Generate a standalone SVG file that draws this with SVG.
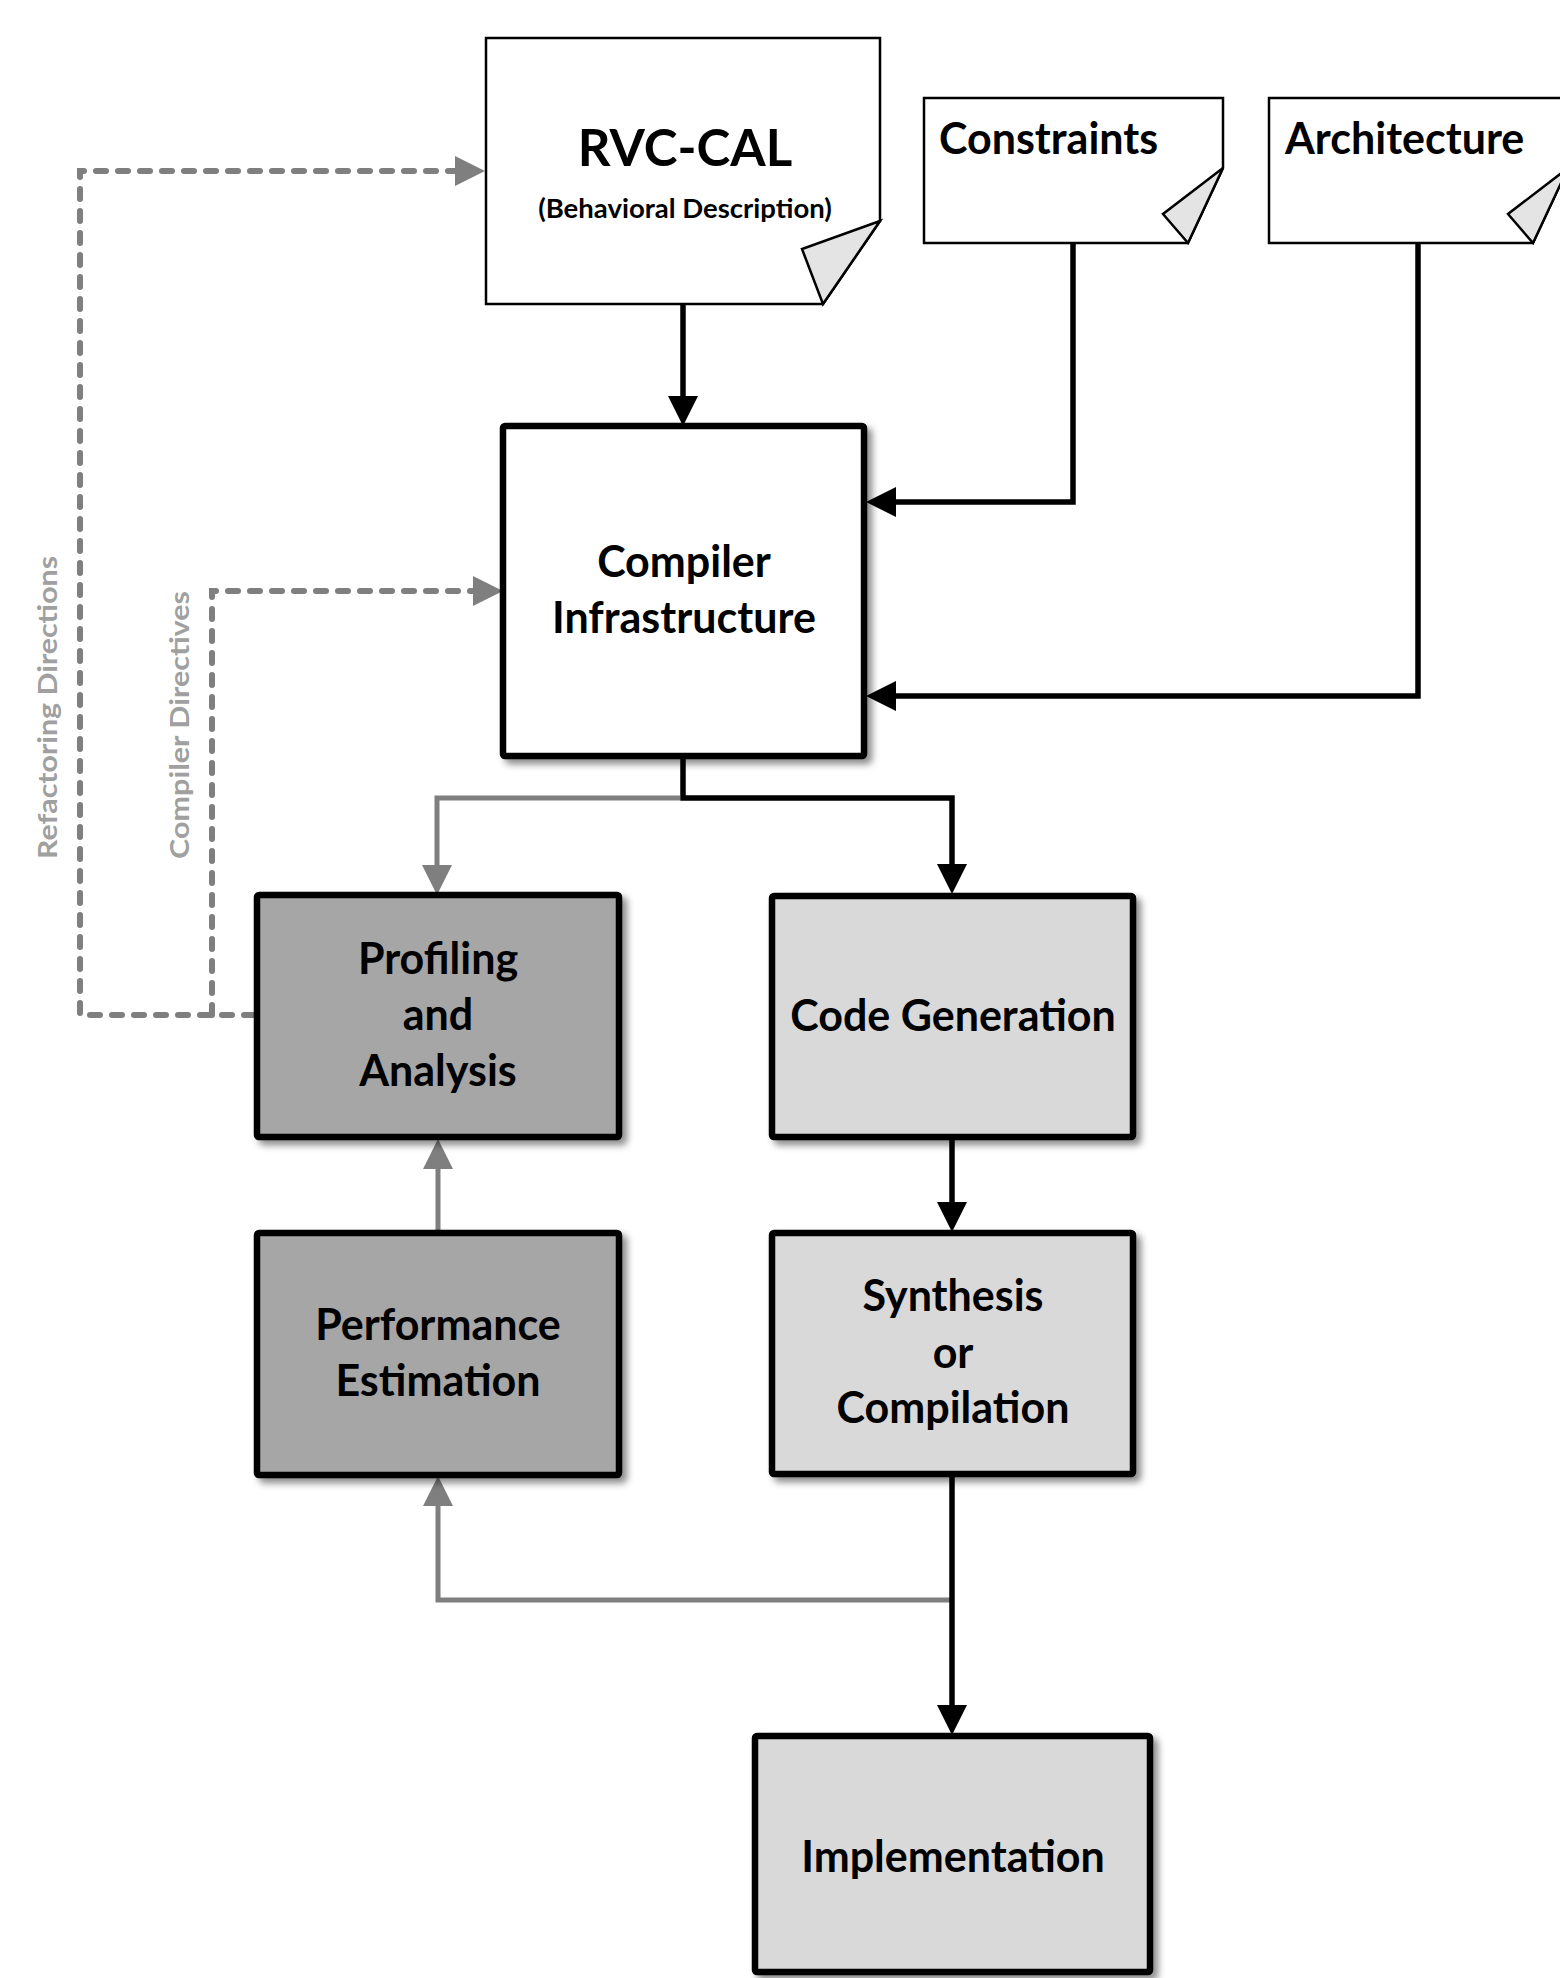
<svg xmlns="http://www.w3.org/2000/svg" width="1560" height="1978" viewBox="0 0 1560 1978">
<defs>
<style>
.doc{fill:#fff;stroke:#000;stroke-width:2.5;stroke-linejoin:miter}
.fold{fill:#e4e4e4;stroke:#000;stroke-width:2.5;stroke-linejoin:miter}
.box{stroke:#000;stroke-width:6.5;filter:url(#sh)}
.white{fill:#fff}
.dark{fill:#a6a6a6}
.light{fill:#d9d9d9}
.lbl{font-family:Lato,"Open Sans",sans-serif;font-weight:700;fill:#000;text-anchor:middle}
.big{font-size:43px}
.side{font-family:Lato,"Open Sans",sans-serif;font-weight:700;font-size:27px;fill:#a0a0a0}
.blk{fill:none;stroke:#000;stroke-width:5.5;stroke-linejoin:miter;marker-end:url(#ab)}
.gry{fill:none;stroke:#7f7f7f;stroke-width:5;stroke-linejoin:miter;marker-end:url(#ag)}
.dsh{fill:none;stroke:#7f7f7f;stroke-width:6;stroke-linecap:round;stroke-dasharray:10 12;marker-end:url(#ag)}
</style>
<filter id="sh" x="-10%" y="-10%" width="130%" height="130%">
<feDropShadow dx="5" dy="5" stdDeviation="3.5" flood-color="#000" flood-opacity="0.45"/>
</filter>
<marker id="ab" markerUnits="userSpaceOnUse" viewBox="0 0 30 30" markerWidth="30" markerHeight="30" refX="10" refY="15" orient="auto">
<path d="M0,0 L30,15 L0,30 Z" fill="#000"/>
</marker>
<marker id="ag" markerUnits="userSpaceOnUse" viewBox="0 0 30 30" markerWidth="30" markerHeight="30" refX="10" refY="15" orient="auto">
<path d="M0,0 L30,15 L0,30 Z" fill="#7f7f7f"/>
</marker>
</defs>
<rect width="1560" height="1978" fill="#fff"/>

<g id="connectors">
<path class="gry" d="M680,798 H437 V875"/>
<path class="gry" d="M950,1600 H438 V1496"/>
<path class="gry" d="M438,1232 V1159"/>
<path class="blk" d="M683,304 V406"/>
<path class="blk" d="M1073,243 V502 H886"/>
<path class="blk" d="M1418,243 V696 H886"/>
<path class="blk" d="M683,756 V798 H952 V874"/>
<path class="blk" d="M952,1137 V1212"/>
<path class="blk" d="M952,1473 V1715"/>
<path class="dsh" d="M254,1015 H80 V171 H465"/>
<path class="dsh" d="M212,1015 V591 H483"/>
<text class="side" transform="translate(57,859) rotate(-90)" textLength="303" lengthAdjust="spacingAndGlyphs">Refactoring Directions</text>
<text class="side" transform="translate(189,859) rotate(-90)" textLength="268" lengthAdjust="spacingAndGlyphs">Compiler Directives</text>
</g>

<g id="rvc-cal">
<path class="doc" d="M486,38 H880 V221 L823,304 H486 Z"/>
<path class="fold" d="M880,221 L802,249 L823,304 Z"/>
<text class="lbl" x="685" y="166" font-size="51">RVC-CAL</text>
<text class="lbl" x="685" y="218" font-size="27.5">(Behavioral Description)</text>
</g>

<g id="constraints">
<path class="doc" d="M924,98 H1223 V168 L1188,243 H924 Z"/>
<path class="fold" d="M1223,168 L1163,214 L1188,243 Z"/>
<text class="lbl" x="939" y="154" font-size="43" style="text-anchor:start">Constraints</text>
</g>

<g id="architecture">
<path class="doc" d="M1269,98 H1568 V168 L1533,243 H1269 Z"/>
<path class="fold" d="M1568,168 L1508,214 L1533,243 Z"/>
<text class="lbl" x="1285" y="154" font-size="43" style="text-anchor:start">Architecture</text>
</g>

<g id="compiler">
<rect class="box white" x="503" y="426" width="361" height="330" rx="2"/>
<text class="lbl big" x="684" y="577">Compiler</text>
<text class="lbl big" x="684" y="633">Infrastructure</text>
</g>

<g id="profiling">
<rect class="box dark" x="257" y="895" width="362" height="242" rx="2"/>
<text class="lbl big" x="438" y="974">Profiling</text>
<text class="lbl big" x="438" y="1030">and</text>
<text class="lbl big" x="438" y="1086">Analysis</text>
</g>

<g id="codegen">
<rect class="box light" x="772" y="896" width="361" height="241" rx="2"/>
<text class="lbl big" x="953" y="1031">Code Generation</text>
</g>

<g id="performance">
<rect class="box dark" x="257" y="1233" width="362" height="242" rx="2"/>
<text class="lbl big" x="438" y="1340">Performance</text>
<text class="lbl big" x="438" y="1396">Estimation</text>
</g>

<g id="synthesis">
<rect class="box light" x="772" y="1233" width="361" height="241" rx="2"/>
<text class="lbl big" x="953" y="1311">Synthesis</text>
<text class="lbl big" x="953" y="1368">or</text>
<text class="lbl big" x="953" y="1423">Compilation</text>
</g>

<g id="implementation">
<rect class="box light" x="755" y="1736" width="395" height="236" rx="2"/>
<text class="lbl big" x="953" y="1872">Implementation</text>
</g>
</svg>
